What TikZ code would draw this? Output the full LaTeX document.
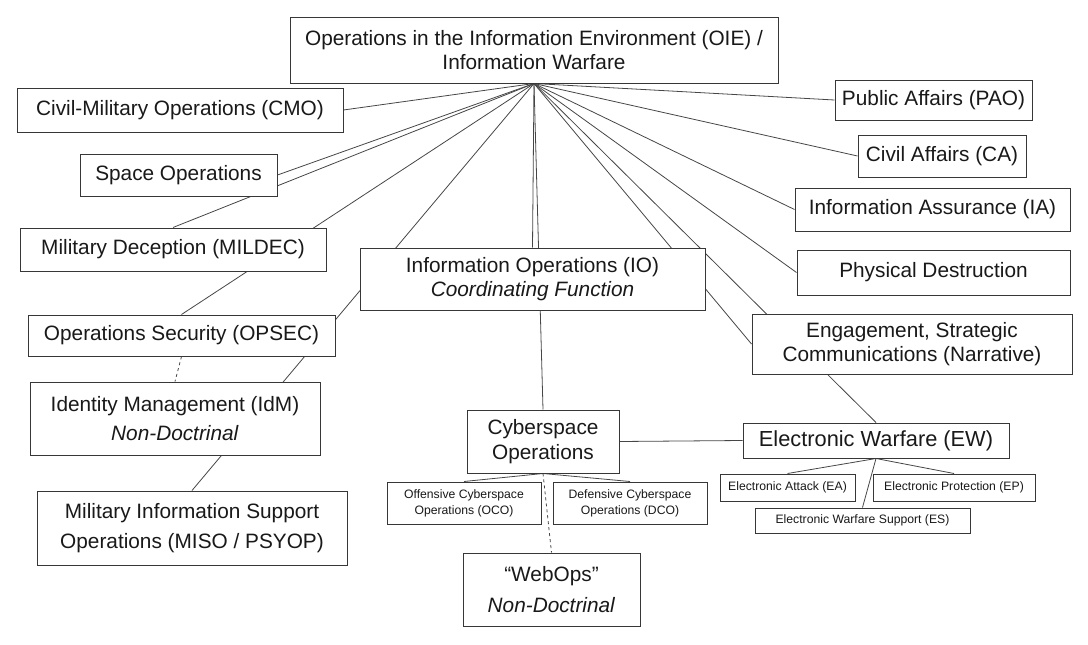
\documentclass[tikz,border=0pt]{standalone}
\usepackage{fontspec}
\setmainfont{Liberation Sans}
\usetikzlibrary{positioning,backgrounds}
\definecolor{boxgray}{RGB}{55,55,55}
\definecolor{linegray}{RGB}{70,70,70}
\definecolor{textgray}{RGB}{25,25,25}
\newcommand{\bigtxt}{\fontsize{20.8}{24.5}\selectfont}
\newcommand{\ewtxt}{\fontsize{21.8}{24}\selectfont}
\newcommand{\smalltxt}{\fontsize{12.2}{16}\selectfont}
\tikzset{
  opbox/.style={draw=boxgray,line width=1pt,fill=white,align=center,inner sep=0pt,text=textgray,font=\bigtxt},
  subbox/.style={opbox,font=\smalltxt},
}
\begin{document}
\begin{tikzpicture}[x=1pt,y=-1pt,
    link/.style={draw=linegray,line width=0.8pt},
    optlink/.style={link,dashed},
  ]
    \useasboundingbox (0,0) rectangle (1088,645);

    %────────── TOP ────────────────
    \node[opbox,minimum width=488pt,minimum height=66pt] (oie) at (534,50) {Operations in the Information Environment (OIE) /\\Information Warfare};

    %────────── LEFT COLUMN ────────
    \node[opbox,minimum width=326pt,minimum height=44pt] (cmo) at (180,110) {Civil-Military Operations (CMO)};
    \node[opbox,minimum width=197pt,minimum height=42pt] (space) at (178.5,175) {Space Operations};
    \node[opbox,minimum width=306pt,minimum height=43pt] (mildec) at (173,249.5) {Military Deception (MILDEC)};
    \node[opbox,minimum width=307pt,minimum height=41pt] (opsec) at (181.5,335.5) {Operations Security (OPSEC)};
    \node[opbox,minimum width=290pt,minimum height=73pt] (idm) at (175,418.5) {Identity Management (IdM)\\[4pt]\textit{Non-Doctrinal}};
    \node[opbox,minimum width=310pt,minimum height=74pt] (miso) at (192,528) {Military Information Support\\[6pt]Operations (MISO / PSYOP)};

    %────────── RIGHT COLUMN ───────
    \node[opbox,minimum width=197pt,minimum height=40pt] (pao) at (933.5,100) {Public Affairs (PAO)};
    \node[opbox,minimum width=168pt,minimum height=42pt] (ca) at (942,156) {Civil Affairs (CA)};
    \node[opbox,minimum width=275pt,minimum height=43pt] (ia) at (932.5,209.5) {Information Assurance (IA)};
    \node[opbox,minimum width=273pt,minimum height=45pt] (phys) at (933.5,272.5) {Physical Destruction};
    \node[opbox,minimum width=320pt,minimum height=60pt] (eng) at (912,344) {Engagement, Strategic\\Communications (Narrative)};

    %────────── IO / CYBER ─────────
    \node[opbox,minimum width=345pt,minimum height=62pt] (io) at (532.5,279) {Information Operations (IO)\\\textit{Coordinating Function}};
    \node[opbox,minimum width=152pt,minimum height=63pt] (cyber) at (543,441.5) {Cyberspace\\Operations};
    \node[subbox,minimum width=154pt,minimum height=42pt] (oco) at (464,503) {Offensive Cyberspace\\Operations (OCO)};
    \node[subbox,minimum width=154pt,minimum height=42pt] (dco) at (630,503) {Defensive Cyberspace\\Operations (DCO)};
    \node[opbox,minimum width=177pt,minimum height=73pt] (webops) at (551.5,589.5) {“WebOps”\\[7pt]\textit{Non-Doctrinal}};

    %────────── EW ─────────────────
    \node[opbox,font=\ewtxt,minimum width=266pt,minimum height=35pt] (ew) at (876,440.5) {Electronic Warfare (EW)};
    \node[subbox,minimum width=135pt,minimum height=27pt] (ea) at (787.5,487.5) {Electronic Attack (EA)};
    \node[subbox,minimum width=162pt,minimum height=27pt] (ep) at (954,487.5) {Electronic Protection (EP)};
    \node[subbox,minimum width=215pt,minimum height=25pt] (es) at (862.5,520.5) {Electronic Warfare Support (ES)};

    %────────── LINKS ──────────────
    \begin{scope}[on background layer]
      \foreach \dest in {cmo.east,space.east,mildec.north,opsec.north,io.north,miso.north,cyber.north,
                         pao.west,ca.west,ia.west,phys.west,eng.west,ew.north}
        \draw[link] (oie.south) -- (\dest);
      \draw[optlink] (opsec.south) -- (idm.north);
      \draw[link] (cyber.east) -- (ew.west);
      \draw[link] (cyber.south) -- (oco.north);
      \draw[link] (cyber.south) -- (dco.north);
      \draw[optlink] (cyber.south) -- (webops.north);
      \draw[link] (ew.south) -- (ea.north);
      \draw[link] (ew.south) -- (ep.north);
      \draw[link] (ew.south) -- (es.north);
    \end{scope}
  \end{tikzpicture}
\end{document}
